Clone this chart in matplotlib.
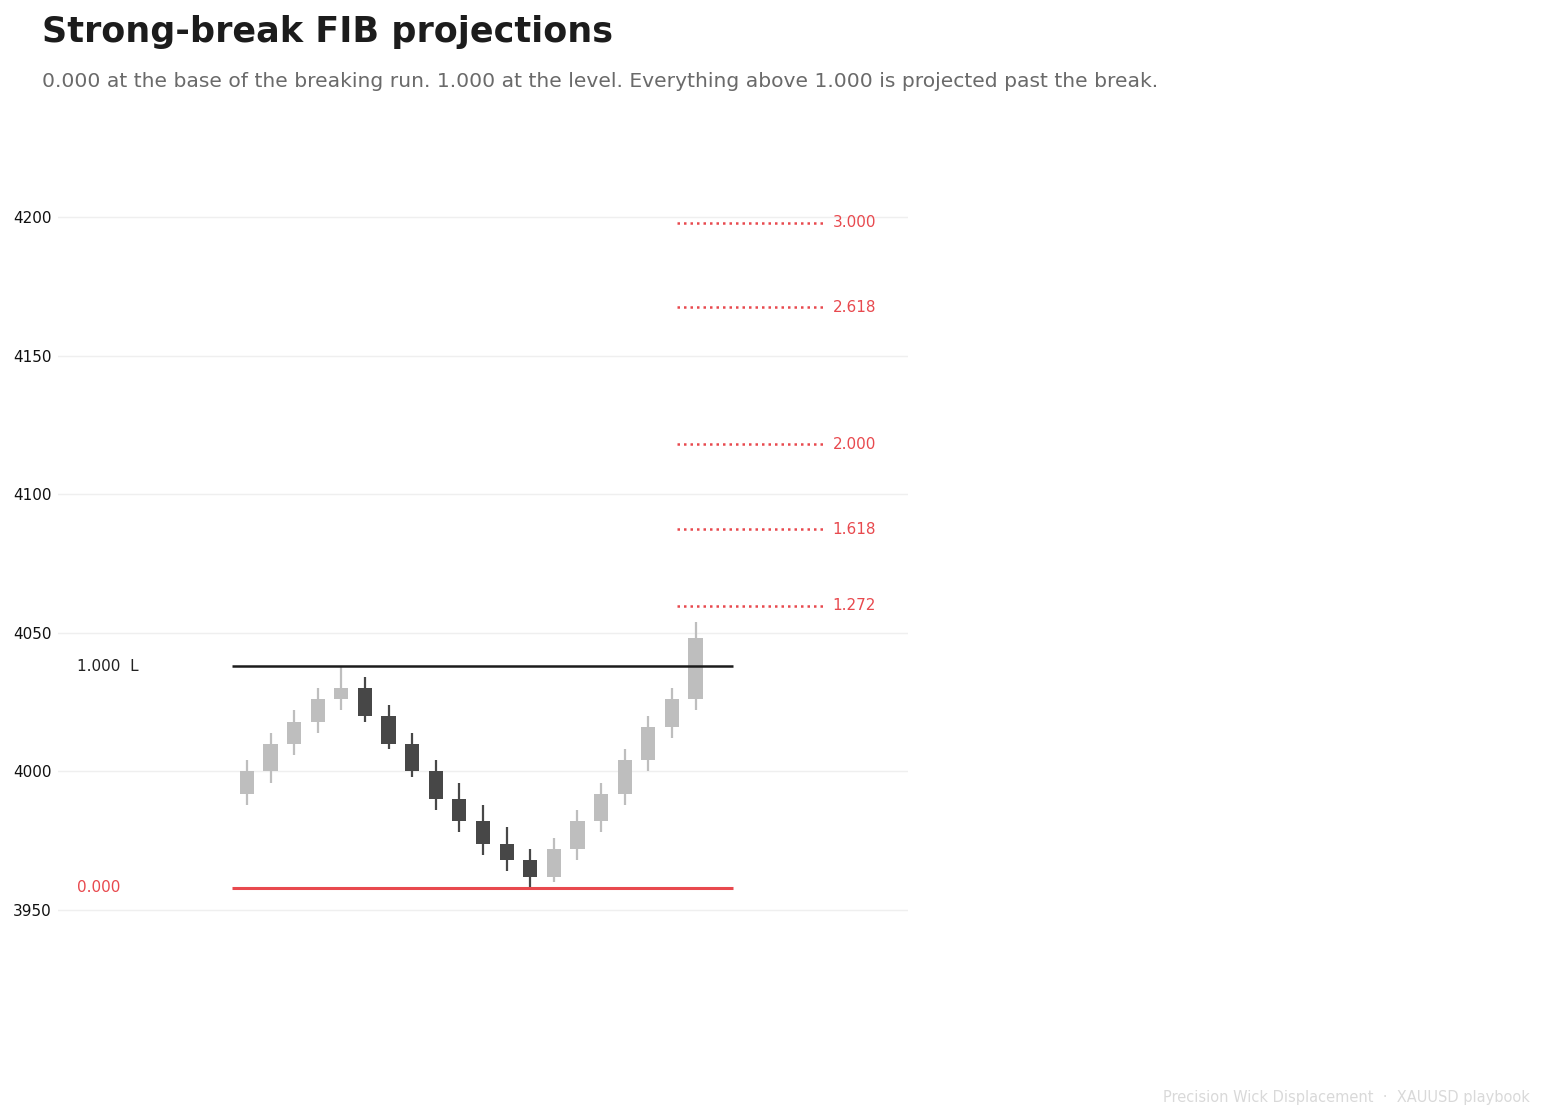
import numpy as np
import matplotlib
matplotlib.use("Agg")
import matplotlib.pyplot as plt

# candle data
opens  = [3992, 4000, 4010, 4018, 4026, 4030, 4020, 4010, 4000, 3990,
          3982, 3974, 3968, 3962, 3972, 3982, 3992, 4004, 4016, 4026]
closes = [4000, 4010, 4018, 4026, 4030, 4020, 4010, 4000, 3990, 3982,
          3974, 3968, 3962, 3972, 3982, 3992, 4004, 4016, 4026, 4048]
highs  = [4004, 4014, 4022, 4030, 4038, 4034, 4024, 4014, 4004, 3996,
          3988, 3980, 3972, 3976, 3986, 3996, 4008, 4020, 4030, 4054]
lows   = [3988, 3996, 4006, 4014, 4022, 4018, 4008, 3998, 3986, 3978,
          3970, 3964, 3958, 3960, 3968, 3978, 3988, 4000, 4012, 4022]

base_price = 3958
level_price = 4038
fib_ratios = [1.272, 1.618, 2.000, 2.618, 3.000]
fib_labels = ["1.272", "1.618", "2.000", "2.618", "3.000"]
yticks = [3950, 4000, 4050, 4100, 4150, 4200]

RED = "#e8494e"
LIGHT = "#bebebe"
DARK = "#474747"

fig = plt.figure(figsize=(15.45, 11.19), dpi=100)
ax = fig.add_axes([0.03754, 0.1124, 0.5502, 0.768])

x = np.arange(len(opens))
for i in x:
    o, c, h, l = opens[i], closes[i], highs[i], lows[i]
    col = LIGHT if c >= o else DARK
    ax.vlines(i, l, h, color=col, lw=1.6, zorder=2)
    ax.bar(i, abs(c - o), bottom=min(o, c), width=0.6, color=col, zorder=3)

ax.hlines(level_price, -0.64, 20.6, color="#1c1c1c", lw=1.8, zorder=4)
ax.hlines(base_price, -0.64, 20.6, color=RED, lw=2.2, zorder=4)
ax.text(-7.2, level_price, "1.000  L", color="#222222", fontsize=11, va="center", ha="left")
ax.text(-7.2, base_price, "0.000", color=RED, fontsize=11, va="center", ha="left")

rng = level_price - base_price
for r, lab in zip(fib_ratios, fib_labels):
    y = base_price + r * rng
    ax.plot([18.2, 24.4], [y, y], color=RED, lw=1.8, linestyle=(0, (1, 1.6)), zorder=4)
    ax.text(24.8, y, lab, color=RED, fontsize=11, va="center", ha="left")

ax.set_xlim(-8, 28)
ax.set_ylim(3920, 4230)
ax.set_yticks(yticks)
ax.set_xticks([])
ax.grid(axis="y", color="#efefef", lw=1)
ax.set_axisbelow(True)
for s in ax.spines.values():
    s.set_visible(False)
ax.tick_params(axis="y", length=0, labelsize=11, pad=4.5, labelcolor="#111111")

fig.text(0.0272, 0.987, "Strong-break FIB projections", fontsize=25.2, fontweight="bold",
         color="#1c1c1c", va="top", ha="left")
fig.text(0.0272, 0.927, "0.000 at the base of the breaking run. 1.000 at the level. "
         "Everything above 1.000 is projected past the break.",
         fontsize=14.6, color="#6a6a6a", va="center", ha="left")
fig.text(0.9905, 0.019, "Precision Wick Displacement  \u00b7  XAUUSD playbook",
         fontsize=10.5, color="#d9d9d9", ha="right", va="center")

fig.savefig("out.png", dpi=100, facecolor="white")
